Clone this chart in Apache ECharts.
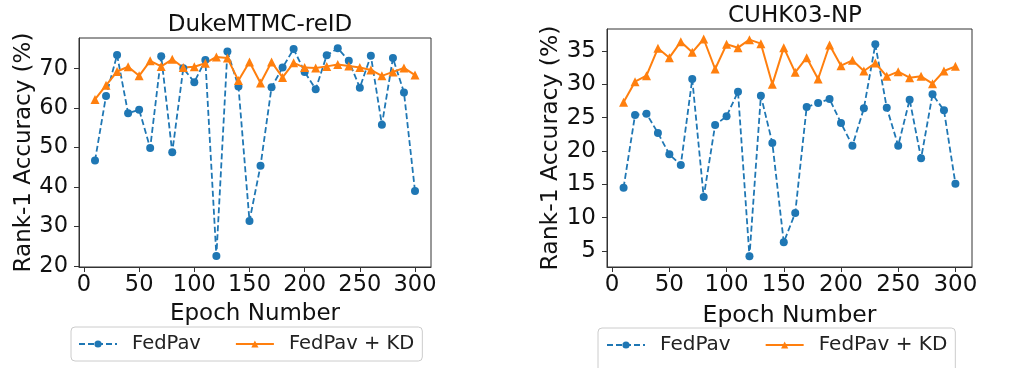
<!DOCTYPE html>
<html>
<head>
<meta charset="utf-8">
<script src="https://cdn.jsdelivr.net/npm/echarts@6/dist/echarts.min.js"></script>
<style>
html,body{margin:0;padding:0;background:#fff;}
#chart{width:1015px;height:368px;}
</style>
</head>
<body>
<div id="chart"></div>
<script>
const epochs = [10,20,30,40,50,60,70,80,90,100,110,120,130,140,150,160,170,180,190,200,210,220,230,240,250,260,270,280,290,300];
const xTicks = [0,50,100,150,200,250,300];
const dukeTicks = [20,30,40,50,60,70];
const cuhkTicks = [5,10,15,20,25,30,35];

const dukeFedPav = [46.7,63.1,73.5,58.7,59.6,49.9,73.2,48.8,70.1,66.6,72.2,22.5,74.4,65.5,31.4,45.4,65.3,70.3,75.0,69.2,64.8,73.4,75.2,72.0,65.2,73.3,55.8,72.7,64.0,39.0];
const dukeFedPavKD = [62.2,65.8,69.3,70.5,68.2,72.0,70.6,72.4,70.3,70.5,71.4,73.0,72.7,67.0,71.7,66.4,71.7,67.8,71.5,70.3,70.2,70.6,71.1,70.7,70.3,69.7,68.2,69.2,70.2,68.4];
const cuhkFedPav = [14.5,25.4,25.6,22.7,19.5,17.9,30.8,13.1,23.9,25.2,28.9,4.2,28.3,21.2,6.3,10.7,26.6,27.2,27.8,24.2,20.8,26.4,36.0,26.5,20.8,27.7,18.9,28.5,26.1,15.1];
const cuhkFedPavKD = [27.3,30.4,31.3,35.4,34.0,36.4,34.8,36.8,32.3,36.0,35.5,36.7,36.1,30.0,35.5,31.8,34.0,30.8,35.9,32.8,33.6,32.0,33.2,31.2,31.9,31.0,31.2,30.1,32.0,32.7];

const titles = ['DukeMTMC-reID', 'CUHK03-NP'];
const seriesNames = ['FedPav', 'FedPav + KD'];

const pairs = (vals) => epochs.map((e, i) => [e, vals[i]]);
const FONT = 'DejaVu Sans';
const BLUE = '#1f77b4', ORANGE = '#ff7f0e';

function xAxisCfg(gi, fs, nfs, gap) {
  return {
    type: 'value', gridIndex: gi, min: -4.5, max: 314.5,
    name: 'Epoch Number', nameLocation: 'middle', nameGap: gap,
    nameTextStyle: {fontFamily: FONT, fontSize: nfs, color: '#111'},
    axisLine: {show: true, onZero: false, lineStyle: {color: '#333', width: 1}},
    axisTick: {show: true, inside: false, length: 5, customValues: xTicks, lineStyle: {color: '#333'}},
    axisLabel: {customValues: xTicks, fontFamily: FONT, fontSize: fs, color: '#111', margin: 7},
    splitLine: {show: false}
  };
}
function yAxisCfg(gi, min, max, ticks, fs, nfs, gap) {
  return {
    type: 'value', gridIndex: gi, min: min, max: max,
    name: 'Rank-1 Accuracy (%)', nameLocation: 'middle', nameGap: gap,
    nameTextStyle: {fontFamily: FONT, fontSize: nfs, color: '#111'},
    axisLine: {show: true, onZero: false, lineStyle: {color: '#333', width: 1}},
    axisTick: {show: true, inside: false, length: 5, customValues: ticks, lineStyle: {color: '#333'}},
    axisLabel: {customValues: ticks, fontFamily: FONT, fontSize: fs, color: '#111', margin: 11},
    splitLine: {show: false}
  };
}
function blueSeries(gi, vals) {
  return {
    name: seriesNames[0], type: 'line', xAxisIndex: gi, yAxisIndex: gi,
    data: pairs(vals), symbol: 'circle', symbolSize: 8,
    lineStyle: {color: BLUE, width: 1.8, type: [6, 3]},
    itemStyle: {color: BLUE}, animation: false
  };
}
function orangeSeries(gi, vals) {
  return {
    name: seriesNames[1], type: 'line', xAxisIndex: gi, yAxisIndex: gi,
    data: pairs(vals), symbol: 'triangle', symbolSize: 9,
    lineStyle: {color: ORANGE, width: 2},
    itemStyle: {color: ORANGE}, animation: false
  };
}
function legendCfg(left, top, fs, pad) {
  return {
    left: left, top: top, orient: 'horizontal',
    data: seriesNames, itemWidth: 38, itemHeight: 9, itemGap: 34,
    padding: pad,
    borderColor: '#ccc', borderWidth: 1, borderRadius: 4, backgroundColor: '#fff',
    textStyle: {fontFamily: FONT, fontSize: fs, color: '#222', padding: [0, 0, 0, 10]},
    selectedMode: false
  };
}

const chart = echarts.init(document.getElementById('chart'), null, {renderer: 'canvas'});
chart.setOption({
  backgroundColor: '#fff',
  animation: false,
  title: [
    {text: titles[0], left: 255, top: 9, textAlign: 'center', textStyle: {fontFamily: FONT, fontSize: 23, fontWeight: 'normal', color: '#111'}},
    {text: titles[1], left: 790, top: 0, textAlign: 'center', textStyle: {fontFamily: FONT, fontSize: 23, fontWeight: 'normal', color: '#111'}}
  ],
  grid: [
    {left: 79, top: 38, width: 352, height: 229, show: true, borderColor: '#333', borderWidth: 1, containLabel: false},
    {left: 607, top: 29, width: 365, height: 238, show: true, borderColor: '#333', borderWidth: 1, containLabel: false}
  ],
  xAxis: [xAxisCfg(0, 22.5, 23, 36), xAxisCfg(1, 23, 23.5, 37)],
  yAxis: [yAxisCfg(0, 19.7, 77.8, dukeTicks, 22.5, 23, 40), yAxisCfg(1, 2.6, 38.3, cuhkTicks, 23, 23.5, 41)],
  legend: [legendCfg(71, 327, 19.5, [7, 8, 7, 7]), legendCfg(598, 328, 20, [7, 8, 20, 8])],
  series: [
    blueSeries(0, dukeFedPav), orangeSeries(0, dukeFedPavKD),
    blueSeries(1, cuhkFedPav), orangeSeries(1, cuhkFedPavKD)
  ]
});
</script>
</body>
</html>
